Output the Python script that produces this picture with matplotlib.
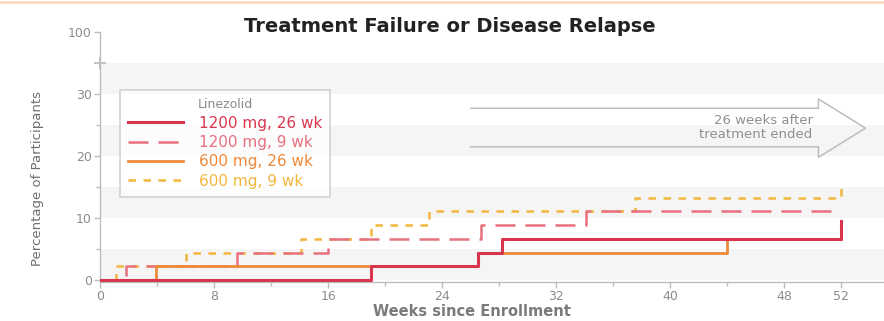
import numpy as np
import matplotlib
matplotlib.use("Agg")
import matplotlib.pyplot as plt
from matplotlib.lines import Line2D
import matplotlib.transforms as mtransforms

# Kaplan-Meier style step data (weeks, cumulative % with failure/relapse)
weeks_1200_26 = [0, 19.0, 26.5, 28.2, 52.0]
pct_1200_26 = [0, 2.2, 4.4, 6.7, 9.5]

weeks_1200_9 = [0, 1.8, 9.6, 16.0, 26.7, 34.1, 52.0]
pct_1200_9 = [0, 2.2, 4.4, 6.7, 8.9, 11.1, 11.1]

weeks_600_26 = [0, 3.9, 26.5, 44.0, 52.0]
pct_600_26 = [0, 2.2, 4.4, 6.7, 6.7]

weeks_600_9 = [0, 1.1, 6.0, 14.1, 19.0, 23.1, 37.5, 52.0]
pct_600_9 = [0, 2.2, 4.4, 6.7, 8.9, 11.1, 13.3, 15.6]

x_ticks = [0, 8, 16, 24, 32, 40, 48, 52]
y_ticks = [0, 10, 20, 30, 100]

RED = "#d9364e"
PINK = "#e8707f"
ORANGE = "#f08a3a"
GOLD = "#f3b63c"
GREY_TXT = "#8c8c8c"

# broken y axis: 0-30 linear, 30-100 squeezed into one 10-unit slot
def fwd(v):
    v = np.asarray(v, dtype=float)
    return np.where(v <= 30, v, 30 + (v - 30) / 7.0)

def inv(s):
    s = np.asarray(s, dtype=float)
    return np.where(s <= 30, s, 30 + (s - 30) * 7.0)

fig = plt.figure(figsize=(8.84, 3.21), dpi=100)
ax = fig.add_axes([100 / 884, 1 - 282 / 321, 1 - 100 / 884, 250 / 321])
ax.set_yscale("function", functions=(fwd, inv))
ax.set_xlim(0, 55)
ax.set_ylim(-0.3, 100)

# faint horizontal bands
for lo, hi in [(0, 5), (10, 15), (20, 25), (30, 65)]:
    ax.axhspan(lo, hi, color="#f5f5f5", lw=0, zorder=0)

ax.step(weeks_600_9, pct_600_9, where="post", color=GOLD, lw=1.8,
        dashes=(3, 3), label="600 mg, 9 wk", zorder=2)
ax.step(weeks_1200_9, pct_1200_9, where="post", color=PINK, lw=1.8,
        dashes=(8, 4), label="1200 mg, 9 wk", zorder=3)
ax.step(weeks_600_26, pct_600_26, where="post", color=ORANGE, lw=2.0,
        label="600 mg, 26 wk", zorder=4)
ax.step(weeks_1200_26, pct_1200_26, where="post", color=RED, lw=2.2,
        label="1200 mg, 26 wk", zorder=5)

# axes styling
for s in ["top", "right"]:
    ax.spines[s].set_visible(False)
for s in ["left", "bottom"]:
    ax.spines[s].set_color("#bdbdbd")
    ax.spines[s].set_linewidth(1.0)

ax.set_xticks(x_ticks)
ax.set_xticks([4, 12, 20, 28, 36, 44], minor=True)
ax.set_yticks(y_ticks)
ax.set_yticks([5, 15, 25], minor=True)
ax.tick_params(axis="both", which="both", colors="#bdbdbd", labelcolor=GREY_TXT,
               labelsize=9, length=4, width=1, pad=2)
ax.tick_params(axis="both", which="minor", length=3)

# break marker on the y axis
trans = mtransforms.blended_transform_factory(ax.transAxes, ax.transData)
ax.plot([0], [65], marker="+", ms=8, mew=1.3, color="#bdbdbd",
        transform=trans, clip_on=False, zorder=6)

ax.set_xlabel("Weeks since Enrollment", fontsize=10.5, fontweight="bold",
              color="#7a7a7a")
ax.xaxis.label.set_va("center")
ax.xaxis.set_label_coords((472 - 100) / 784, -(312 - 282) / 250)
ax.set_ylabel("Percentage of Participants", fontsize=9.5, color="#6e6e6e")
ax.yaxis.set_label_coords(-(100 - 38) / 784, (282 - 178) / 250)
ax.yaxis.label.set_va("center")

# open arrow spanning the post-treatment follow-up
ax_x = [26.0, 50.4, 50.4, 53.7, 50.4, 50.4, 26.0]
ax_y = [27.7, 27.7, 29.2, 24.5, 19.8, 21.5, 21.5]
ax.plot(ax_x, ax_y, color="#bdbdbd", lw=1.1, zorder=1, clip_on=False)
ax.text(50.0, 24.6, "26 weeks after\ntreatment ended", ha="right", va="center",
        fontsize=9.5, color="#8f8f8f", linespacing=1.1)

leg = ax.legend(
    handles=[
        Line2D([], [], color=RED, lw=2.2),
        Line2D([], [], color=PINK, lw=1.8, dashes=(8, 4)),
        Line2D([], [], color=ORANGE, lw=2.0),
        Line2D([], [], color=GOLD, lw=1.8, dashes=(3, 3)),
    ],
    labels=["1200 mg, 26 wk", "1200 mg, 9 wk", "600 mg, 26 wk", "600 mg, 9 wk"],
    labelcolor=[RED, PINK, ORANGE, GOLD],
    title="Linezolid", title_fontsize=9, fontsize=11,
    loc="upper left", bbox_to_anchor=(20 / 784, (282 - 90) / 250),
    frameon=True, fancybox=False, edgecolor="#c8c8c8", handlelength=3.6,
    handletextpad=1.0, labelspacing=0.28, borderpad=0.55,
    borderaxespad=0,
)
leg.get_title().set_color("#8a8a8a")
leg.get_frame().set_linewidth(1.2)

fig.text(0.509, 1 - 26 / 321, "Treatment Failure or Disease Relapse",
         ha="center", va="center", fontsize=14, fontweight="bold", color="#222222")

# thin tinted rule along the top edge
fig.add_artist(Line2D([0, 1], [0.995, 0.995], color="#f7dcc0", lw=2,
                      transform=fig.transFigure))

fig.savefig("out.png", dpi=100)
